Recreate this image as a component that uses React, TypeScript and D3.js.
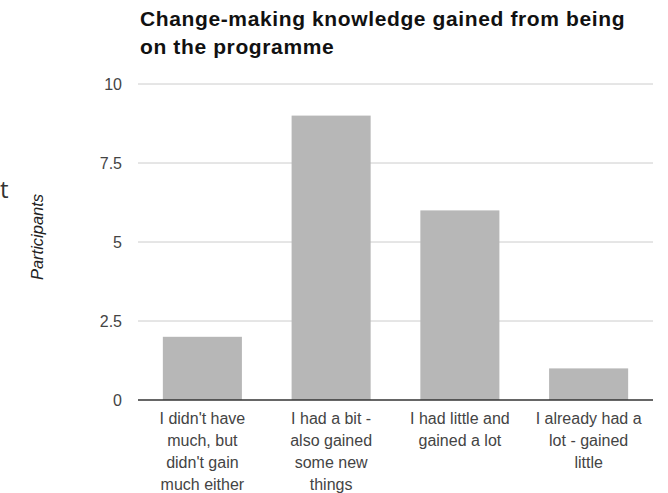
import React from "react";
import * as d3 from "d3";

const categories = [
  "I didn't have much, but didn't gain much either",
  "I had a bit - also gained some new things",
  "I had little and gained a lot",
  "I already had a lot - gained little",
];
const categoryLines = [
  ["I didn't have", "much, but", "didn't gain", "much either"],
  ["I had a bit -", "also gained", "some new", "things"],
  ["I had little and", "gained a lot"],
  ["I already had a", "lot - gained", "little"],
];
const participants = [2, 9, 6, 1];
const yTicks = [0, 2.5, 5, 7.5, 10];
const yTickLabels = ["0", "2.5", "5", "7.5", "10"];
const titleLines = ["Change-making knowledge gained from being", "on the programme"];

const W = 668;
const H = 493;
const plot = { left: 138, right: 653, top: 84, bottom: 400 };
const font = "'Liberation Sans', Arial, sans-serif";

export default function App() {
  const x = d3
    .scaleBand<string>()
    .domain(categories)
    .range([plot.left, plot.right])
    .paddingInner(0.386)
    .paddingOuter(0.193);
  const y = d3.scaleLinear().domain([0, 10]).range([plot.bottom, plot.top]);

  return (
    <svg
      width={W}
      height={H}
      style={{ position: "absolute", left: 0, top: 0, background: "#fff" }}
    >
      <text x={0} y={198} fontFamily="'Open Sans', sans-serif" fontSize={24} fill="#333">
        t
      </text>
      {titleLines.map((t, i) => (
        <text
          key={i}
          x={140}
          y={26 + i * 28}
          fontFamily={font}
          fontWeight="bold"
          fontSize={21}
          letterSpacing={0.62}
          fill="#111"
        >
          {t}
        </text>
      ))}
      {yTicks.map((v, i) => (
        <g key={v}>
          {v !== 0 && (
            <line
              x1={plot.left}
              x2={plot.right}
              y1={y(v)}
              y2={y(v)}
              stroke="#cccccc"
              strokeWidth={1}
            />
          )}
          <text
            x={122}
            y={y(v)}
            dy="0.35em"
            textAnchor="end"
            fontFamily={font}
            fontSize={16}
            fill="#444"
          >
            {yTickLabels[i]}
          </text>
        </g>
      ))}
      <text
        transform={`translate(43,${(plot.top + plot.bottom) / 2 - 5}) rotate(-90)`}
        textAnchor="middle"
        fontFamily={font}
        fontStyle="italic"
        fontSize={16.5}
        fill="#222"
      >
        Participants
      </text>
      {categories.map((c, i) => (
        <rect
          key={c}
          x={x(c)}
          y={y(participants[i])}
          width={x.bandwidth()}
          height={y(0) - y(participants[i])}
          fill="#b7b7b7"
        />
      ))}
      <line
        x1={plot.left}
        x2={plot.right}
        y1={y(0)}
        y2={y(0)}
        stroke="#333"
        strokeWidth={1.5}
      />
      {categories.map((c, i) => (
        <text
          key={c}
          textAnchor="middle"
          fontFamily={font}
          fontSize={16}
          fill="#444"
        >
          {categoryLines[i].map((l, j) => (
            <tspan key={j} x={(x(c) ?? 0) + x.bandwidth() / 2} y={424 + j * 22}>
              {l}
            </tspan>
          ))}
        </text>
      ))}
    </svg>
  );
}
